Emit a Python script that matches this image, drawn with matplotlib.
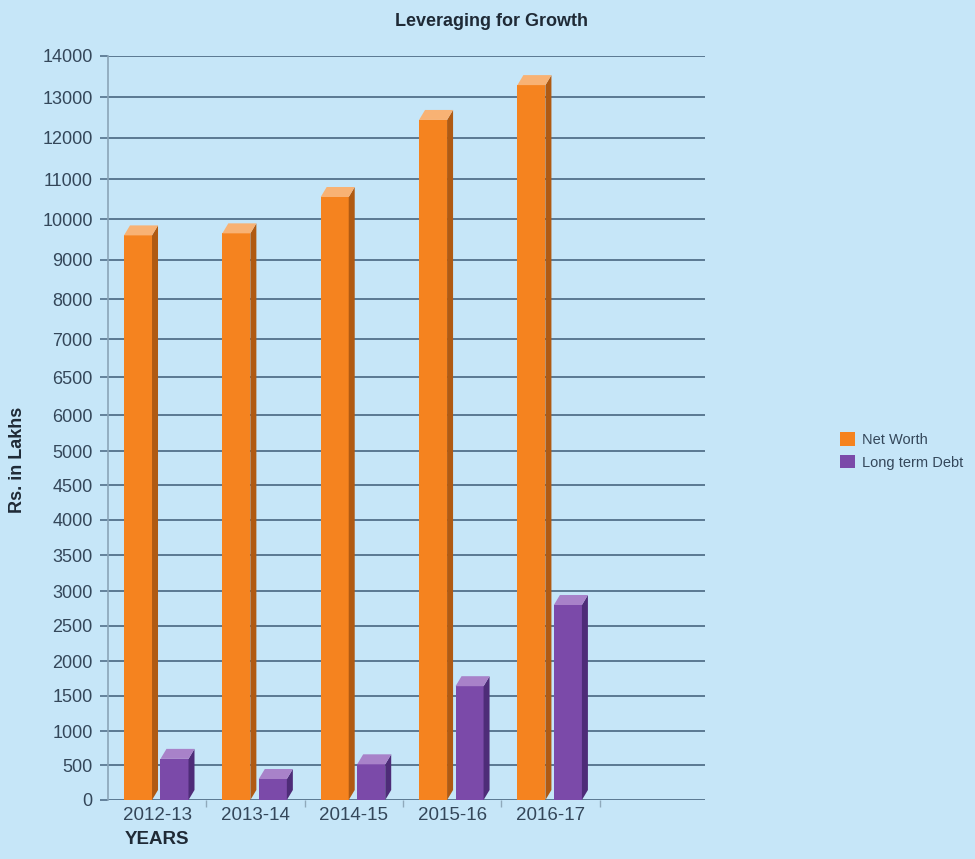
import numpy as np
import matplotlib
matplotlib.use('Agg')
import matplotlib.pyplot as plt
from matplotlib.patches import Polygon, Patch
from matplotlib.transforms import IdentityTransform
from matplotlib.ticker import FixedLocator


years = ['2012-13', '2013-14', '2014-15', '2015-16', '2016-17']
net_worth = [9600, 9650, 10550, 12440, 13290]
long_term_debt = [590, 300, 510, 1640, 2800]

yticks = [0, 500, 1000, 1500, 2000, 2500, 3000, 3500, 4000, 4500, 5000,
          6000, 6500, 7000, 8000, 9000, 10000, 11000, 12000, 13000, 14000]
# the printed axis is not linear, so the scale is piecewise between the ticks
ytick_gap = [0, 35, 69, 104, 139, 174, 209, 245, 280, 315, 349,
             385, 423, 461, 501, 540, 581, 621, 662, 703, 744]


def fwd(v):
	return np.interp(v, yticks, ytick_gap)


def inv(p):
	return np.interp(p, ytick_gap, yticks)


def bar3d(ax, x, h, w, front, side, top, dx=6, dy=10):
	''' front face with ax.bar, side and top faces added in pixels'''
	bars = ax.bar(x, h, w, color=front, zorder=3)
	for b in bars:
		x0, y0 = ax.transData.transform((b.get_x(), 0))
		x1, y1 = ax.transData.transform((b.get_x() + b.get_width(), b.get_height()))
		side_face = [(x1, y0), (x1 + dx, y0 + dy), (x1 + dx, y1 + dy), (x1, y1)]
		top_face = [(x0, y1), (x0 + dx, y1 + dy), (x1 + dx, y1 + dy), (x1, y1)]
		for pts, c in ((side_face, side), (top_face, top)):
			p = Polygon(pts, closed=True, facecolor=c, edgecolor='none',
			            transform=IdentityTransform(), zorder=3, clip_on=False)
			ax.add_artist(p)


def main():
	bg = '#c6e6f8'
	txt = '#34475a'
	grid = '#52708a'

	fig = plt.figure(figsize=(9.75, 8.59), dpi=100, facecolor=bg)
	ax = fig.add_axes([108 / 975, 1 - 800 / 859, 597 / 975, 744 / 859])
	ax.set_facecolor(bg)

	ax.set_yscale('function', functions=(fwd, inv))
	ax.set_ylim(0, 14000)
	ax.set_xlim(-0.5, 5.57)

	ax.yaxis.set_major_locator(FixedLocator(yticks))
	ax.set_yticklabels([str(t) for t in yticks])
	ax.yaxis.set_minor_locator(FixedLocator([]))

	x = np.arange(len(years))
	ax.set_xticks(x)
	ax.set_xticklabels(years)
	ax.set_xticks(x + 0.5, minor=True)

	ax.tick_params(axis='y', which='major', length=6, width=1.2, color=grid,
	               labelsize=13, labelcolor=txt, pad=5)
	ax.tick_params(axis='x', which='major', length=0, labelsize=13.5,
	               labelcolor=txt, pad=5)
	ax.tick_params(axis='x', which='minor', length=5, width=1, color='#8fa9bb')

	for lab in ax.get_xticklabels() + ax.get_yticklabels():
		lab.set_family('Liberation Sans')

	ax.yaxis.grid(True, color=grid, linewidth=1.3)
	ax.set_axisbelow(True)

	for s in ['top', 'right', 'bottom']:
		ax.spines[s].set_visible(False)
	ax.spines['left'].set_color('#8aa4b8')
	ax.spines['left'].set_linewidth(1.2)

	# 3D looking columns
	bar3d(ax, x - 0.195, net_worth, 0.285, '#f5831f', '#b05a12', '#f8b274')
	bar3d(ax, x + 0.176, long_term_debt, 0.285, '#7b4aa9', '#4e2c78', '#a882c9')

	# label chart
	fig.text(492 / 975, 1 - 22 / 859, 'Leveraging for Growth', ha='center', va='center',
	         fontsize=13, fontweight='bold', color='#1f2a36', family='Liberation Sans')
	fig.text(18 / 975, 1 - 460 / 859, 'Rs. in Lakhs', ha='center', va='center', rotation=90,
	         fontsize=13, fontweight='bold', color='#1f2a36', family='Liberation Sans')
	fig.text(157 / 975, 1 - 840 / 859, 'YEARS', ha='center', va='center',
	         fontsize=13.5, fontweight='bold', color='#1f2a36', family='Liberation Sans')

	handles = [Patch(facecolor='#f5831f', edgecolor='none', label='Net Worth'),
	           Patch(facecolor='#7b4aa9', edgecolor='none', label='Long term Debt')]
	leg = fig.legend(handles=handles, loc='center left', bbox_to_anchor=(0.848, 1 - 451 / 859),
	                 frameon=False, handlelength=1.0, handleheight=1.0, handletextpad=0.5,
	                 labelspacing=0.55, prop={'family': 'Liberation Sans', 'size': 10.5})
	for t in leg.get_texts():
		t.set_color(txt)

	plt.savefig('out.png', dpi=100, facecolor=bg)
	plt.close()

	return


if __name__ == '__main__':
	main()
